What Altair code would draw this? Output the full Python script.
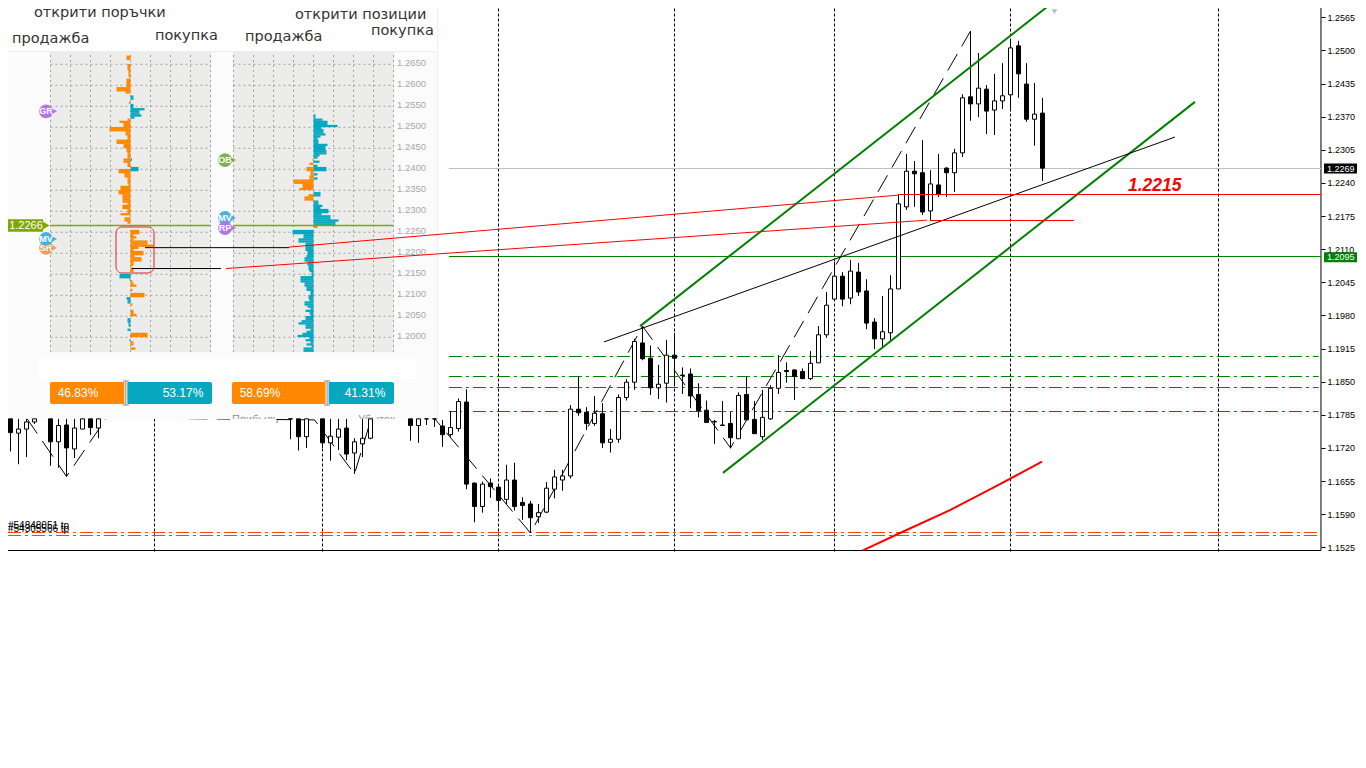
import altair as alt
import pandas as pd

# ---- candles ----
bars = [0,1,2,3,5,6,7,8,9,10,11,35,36,37,39,40,41,42,43,44,45,50,51,52,53] + list(range(54,130))
highs = [1.1777,1.1777,1.1777,1.1777,1.1777,1.1777,1.1777,1.1777,1.1777,1.1777,1.1777,
 1.1777,1.1777,1.1777,1.1777,1.1777,1.1777,1.1777,1.1739,1.1777,1.1777,1.1777,1.1777,1.1777,1.1777,
 1.1775,1.1792,1.1817,1.1835,1.1652,1.1654,1.1660,1.1649,1.1687,1.1691,1.1623,1.1616,1.1610,1.1653,1.1677,1.1677,
 1.1804,1.1860,1.1800,1.1822,1.1808,1.1757,1.1825,1.1855,1.1934,1.1959,1.1921,1.1883,1.1932,1.1946,1.1878,1.1876,
 1.1847,1.1813,1.1775,1.1812,1.1791,1.1829,1.1860,1.1812,1.1834,1.1843,1.1902,1.1888,1.1874,1.1876,1.1910,1.1959,
 1.2026,1.2085,1.2065,1.2089,1.2083,1.2051,1.1975,1.2018,1.2059,1.2216,1.2297,1.2283,1.2324,1.2265,1.2297,1.2271,
 1.2307,1.2414,1.2538,1.2495,1.2432,1.2454,1.2475,1.2522,1.2519,1.2475,1.2436,1.2407]
opens = [1.1777,1.1749,1.1757,1.1771,1.1777,1.1732,1.1765,1.1718,1.1757,1.1777,1.1759,
 1.1777,1.1777,1.1742,1.1777,1.1730,1.1741,1.1759,1.1710,1.1728,1.1739,1.1777,1.1764,1.1777,1.1777,
 1.1763,1.1746,1.1758,1.1810,1.1651,1.1605,1.1651,1.1643,1.1619,1.1657,1.1613,1.1610,1.1585,1.1594,1.1639,1.1657,
 1.1665,1.1796,1.1790,1.1768,1.1787,1.1731,1.1737,1.1819,1.1849,1.1926,1.1896,1.1838,1.1847,1.1902,1.1863,1.1865,
 1.1825,1.1794,1.1772,1.1765,1.1768,1.1738,1.1825,1.1776,1.1742,1.1777,1.1837,1.1872,1.1873,1.1870,1.1856,1.1887,
 1.1942,1.2012,1.2057,1.2014,1.2065,1.2028,1.1967,1.1934,1.1946,1.2032,1.2193,1.2263,1.2260,1.2185,1.2236,1.2269,
 1.2260,1.2299,1.2409,1.2395,1.2424,1.2383,1.2401,1.2413,1.2509,1.2434,1.2365,1.2377]
closes = [1.1750,1.1757,1.1771,1.1777,1.1732,1.1764,1.1720,1.1759,1.1777,1.1760,1.1777,
 1.1777,1.1742,1.1777,1.1730,1.1743,1.1757,1.1708,1.1732,1.1739,1.1777,1.1764,1.1777,1.1777,1.1777,
 1.1746,1.1760,1.1811,1.1649,1.1605,1.1649,1.1644,1.1617,1.1657,1.1605,1.1607,1.1583,1.1593,1.1641,1.1663,1.1665,
 1.1796,1.1789,1.1768,1.1788,1.1730,1.1737,1.1819,1.1849,1.1929,1.1895,1.1838,1.1845,1.1902,1.1896,1.1862,1.1822,
 1.1793,1.1770,1.1771,1.1764,1.1740,1.1823,1.1775,1.1748,1.1780,1.1837,1.1868,1.1870,1.1860,1.1856,1.1886,1.1942,
 1.2000,1.2057,1.2012,1.2067,1.2026,1.1965,1.1934,1.1948,1.2032,1.2199,1.2263,1.2258,1.2183,1.2238,1.2218,1.2260,
 1.2299,1.2407,1.2395,1.2426,1.2381,1.2401,1.2411,1.2505,1.2454,1.2365,1.2375,1.2269]
lows = [1.1713,1.1688,1.1702,1.1767,1.1685,1.1681,1.1664,1.1700,1.1757,1.1745,1.1739,
 1.1737,1.1715,1.1720,1.1720,1.1695,1.1716,1.1696,1.1669,1.1702,1.1737,1.1734,1.1730,1.1765,1.1761,
 1.1722,1.1742,1.1752,1.1639,1.1574,1.1593,1.1622,1.1598,1.1610,1.1597,1.1579,1.1553,1.1573,1.1592,1.1621,1.1636,
 1.1660,1.1783,1.1755,1.1763,1.1720,1.1711,1.1730,1.1813,1.1834,1.1892,1.1824,1.1816,1.1809,1.1843,1.1826,1.1798,
 1.1780,1.1769,1.1728,1.1764,1.1719,1.1738,1.1775,1.1748,1.1736,1.1775,1.1826,1.1848,1.1814,1.1855,1.1853,1.1887,
 1.1936,1.2010,1.1998,1.2002,1.2018,1.1953,1.1914,1.1918,1.1932,1.2032,1.2187,1.2193,1.2177,1.2167,1.2212,1.2212,
 1.2222,1.2291,1.2362,1.2369,1.2336,1.2334,1.2385,1.2383,1.2407,1.2360,1.2313,1.2244]

axis_prices = [1.2565,1.2500,1.2435,1.2370,1.2305,1.2240,1.2175,1.2110,1.2045,1.1980,1.1915,1.1850,1.1785,1.1720,1.1655,1.1590,1.1525]
period_bars = [18,39,61,83,103,125,151]

zigzag_bars = [2,7,12,38,43,45,46,50,65,79,90,120]
zigzag_prices = [1.1779,1.1664,1.1779,1.1775,1.1669,1.1773,1.1824,1.1834,1.1553,1.1959,1.1720,1.2538]

ma_bars = [106.56,111.19,117.44,123.69,128.94]
ma_prices = [1.1519,1.1553,1.1598,1.1649,1.1693]

# level lines
BAR_L, BAR_S, BAR_R = -0.3125, 54.8, 163.81
green_dashdot = [1.189938,1.186013,1.183855,1.179145]
orange_dashdot = [1.155401,1.154812]
bid_price, level_green, level_red, level_red2 = 1.22683, 1.209561, 1.221728, 1.216626
frame_bottom, frame_top = 1.151869, 1.2593

# order book (signed widths per price row, rows from top)
left_start = -3
left_book = [-4,-4,0,0,-3,-3,-3,-2,-2,-2,-1,-4,-4,-4,-4,-14,-14,-5,0,3,3,0,-1.5,3,3,14,9,9,11,4,-3,-11,-7,-7,-21,-21,-5,-5,-3,-3,-14,-14,-7,-7,-4,-4,-3,-3,-3,-7,-7,-3,-3,8,8,-12,-6,-6,-3,-3,-3,-2,-10,-10,-12,-12,-8,-8,-8,-8,-3,-8,-8,-3,-3,-10,0,-6,-6,-3,0,0,0,9,9,3,6,3,17,17,23,8,3,13,13,4,11,11,3,3,1,3,3,0,-11,-11,-1,2,3,6,0,2,0,14,14,-4,-3,-3,2,0,0,3,3,6,0,-3,-3,-2,-2,0,-3,0,17,17,0,-1,3,3,0,5]
left_extra = [(51,-12),(46,1.5)]
right_start = 25
right_book = [2,2,9,14,14,24,8,10,10,12,7,4,5,5,14,12,12,13,13,6,4,-1,6,-4,4,13,13,-3,4,-4,4,-20,-20,-11,-11,-14,0,7,-5,-9,-9,5,5,9,7,15,15,8,17,17,25,22,22,4,0,-21,-21,-10,-10,-15,-15,-8,-8,-8,-8,-6,-6,-7,-9,-9,-6,-6,-5,-5,-4,-2,-2,-13,-13,-13,-9,-9,-7,-7,-3,-3,-5,-5,-4,-9,-9,-6,-3,-8,-4,-3,-8,-8,-12,-15,-8,-8,-3,-7,-11,-16,-4,-8,-3,-7,-2,-10,-10]
right_extra = [(50,-7),(51,-7),(53,-3),(55,-4),(63,7)]
book_base, book_step, book_mid = 1.2653, 0.0005, 1.2266
book_ticks = [1.2650,1.2600,1.2550,1.2500,1.2450,1.2400,1.2350,1.2300,1.2250,1.2200,1.2150,1.2100,1.2050,1.2000]
book_grid = [-80,-60,-40,-20,0,20,40,60,80]

sell_left, buy_left = 46.83, 53.17
sell_right, buy_right = 58.69, 41.31

tag_names = ["GR","SR","MV"]
tag_prices = [1.2538,1.2213,1.2234]
tag_colors = ["#b474ea","#e8a062","#4cb1da"]
tag2_names = ["OB","MV","RP"]
tag2_prices = [1.2422,1.2284,1.2260]
tag2_colors = ["#7eb24e","#4cb1da","#b474ea"]

ORANGE, TEAL, OLIVE = "#ff8800", "#06a8c0", "#7fa900"
GREEN = "#008000"
W, H = 1350, 745
XM = [-0.3125, 168.4375]
YM = [1.112135, 1.258325]
YP = [1.10102, 1.27840]
XL = [-122.5, 1227.5]
XR = [-305.5, 1044.5]
PL = [-25.93, 807.4]
PR = [-138.27, 695.06]


def sx(field, dom=XM):
    return alt.X(field, type="quantitative", scale=alt.Scale(domain=dom, nice=False, zero=False), axis=None, title=None)


def sy(field, dom=YM, axis=None):
    return alt.Y(field, type="quantitative", scale=alt.Scale(domain=dom, nice=False, zero=False), axis=axis, title=None)


def seg(x0, x1, y, color, width=1, dash=None, dom=XM, ydom=YM):
    df = pd.DataFrame({"a": [x0], "b": [x1], "y": [y]})
    kw = {"strokeDash": dash} if dash else {}
    return alt.Chart(df).mark_rule(color=color, strokeWidth=width, **kw).encode(
        x=sx("a", dom), x2=alt.X2("b"), y=sy("y", ydom))


def poly(xs, ys, color, width=1, dash=None):
    df = pd.DataFrame({"x": xs, "y": ys})
    kw = {"strokeDash": dash} if dash else {}
    return alt.Chart(df).mark_line(color=color, strokeWidth=width, **kw).encode(x=sx("x"), y=sy("y"))


def box(x0, y0, x1, y1, fill, **kw):
    return alt.Chart(pd.DataFrame({"k": [1]})).mark_rect(fill=fill, **kw).encode(
        x=alt.value(x0 - 8), x2=alt.value(x1 - 8), y=alt.value(y0 - 8), y2=alt.value(y1 - 8))


def note(text, px, py, size=14.5, color="#333333", font="DejaVu Sans", align="left", **kw):
    return alt.Chart(pd.DataFrame({"t": [text]})).mark_text(
        align=align, baseline="middle", fontSize=size, color=color, font=font, **kw).encode(
        x=alt.value(px - 8), y=alt.value(py - 8), text="t:N")


layers = []

# axis + frame
axis_df = pd.DataFrame({"p": axis_prices, "x": [BAR_R] * len(axis_prices)})
layers.append(alt.Chart(axis_df).mark_rule(opacity=0).encode(
    y=sy("p", axis=alt.Axis(orient="right", offset=-37, values=axis_prices, format=".4f", domain=False,
                            grid=False, ticks=True, tickSize=4, tickColor="black", labelColor="black",
                            labelFont="Liberation Sans", labelFontSize=9, labelPadding=2,
                            labelOverlap=False, title=None))))
layers.append(seg(BAR_L, BAR_R, frame_bottom, "black"))
layers.append(seg(BAR_S, BAR_R, frame_top, "black"))
layers.append(alt.Chart(pd.DataFrame({"x": [BAR_R], "a": [frame_bottom], "b": [frame_top]})).mark_rule(color="black").encode(
    x=sx("x"), y=sy("a"), y2=alt.Y2("b")))

# period separators
sep_df = pd.DataFrame({"x": period_bars, "a": [frame_bottom - 0.0002] * len(period_bars), "b": [frame_top] * len(period_bars)})
layers.append(alt.Chart(sep_df).mark_rule(color="black", strokeDash=[3, 2]).encode(
    x=sx("x"), y=sy("a"), y2=alt.Y2("b")))

# levels
layers.append(seg(BAR_S, BAR_R, bid_price, "#c0c0c0"))
layers.append(seg(BAR_S, BAR_R, level_green, GREEN))
for p in green_dashdot:
    layers.append(seg(BAR_S, BAR_R - 0.3, p, GREEN, dash=[13, 4, 3, 4]))
for p in orange_dashdot:
    layers.append(seg(BAR_L, BAR_R, p, "#ff4500", dash=[13, 4, 3, 4]))
layers.append(poly(zigzag_bars, zigzag_prices, "black", dash=[19, 9]))

# overlay panel
layers.append(box(8, 8, 448, 419, "white"))
layers.append(box(8, 52, 437, 419, "#fbfbfb"))
layers.append(box(8, 51, 437, 52, "#eeeeee"))
layers.append(box(437, 8, 438, 419, "#eeeeee"))
layers.append(box(37, 358, 416, 379, "white"))
layers.append(box(50, 52, 211, 352, "#ecedea"))
layers.append(box(233, 52, 394, 352, "#ecedea"))

grid_top, grid_bottom = 1.26793, 1.1965
for dom in (XL, XR):
    gdf = pd.DataFrame({"x": book_grid, "a": [grid_bottom] * 9, "b": [grid_top] * 9})
    layers.append(alt.Chart(gdf).mark_rule(color="#a0a0a0", strokeDash=[2, 3]).encode(
        x=sx("x", dom), y=sy("a", YP), y2=alt.Y2("b")))
    hdf = pd.DataFrame({"y": book_ticks, "a": [-80] * len(book_ticks), "b": [80] * len(book_ticks)})
    layers.append(alt.Chart(hdf).mark_rule(color="#a0a0a0", strokeDash=[2, 3]).encode(
        x=sx("a", dom), x2=alt.X2("b"), y=sy("y", YP)))


def book_frame(start, values, extra):
    rows = [(start + i, v) for i, v in enumerate(values) if v != 0] + list(extra)
    out = []
    for n, v in rows:
        price = book_base - n * book_step
        out.append({"p": price, "v": v, "z": 0,
                    "c": TEAL if (v > 0) == (price > book_mid) else ORANGE})
    return pd.DataFrame(out)


for dom, start, vals, extra in ((XL, left_start, left_book, left_extra), (XR, right_start, right_book, right_extra)):
    layers.append(alt.Chart(book_frame(start, vals, extra)).mark_rule(strokeWidth=2.3).encode(
        x=sx("z", dom), x2=alt.X2("v"), y=sy("p", YP), color=alt.Color("c:N", scale=None)))

# book price labels
lab_df = pd.DataFrame({"p": book_ticks, "x": [83.5] * len(book_ticks)})
layers.append(alt.Chart(lab_df).mark_text(align="left", baseline="middle", dy=-1, fontSize=9.5,
                                          font="Liberation Sans", color="#a8a8a8").encode(
    x=sx("x", XR), y=sy("p", YP), text=alt.Text("p:Q", format=".4f")))

# current price in the panels
layers.append(seg(-80, 80, book_mid, OLIVE, width=1.5, dom=XL, ydom=YP))
layers.append(seg(-80, 80, book_mid, OLIVE, width=1.5, dom=XR, ydom=YP))
layers.append(alt.Chart(pd.DataFrame({"a": [-125.5], "b": [-87.5], "y0": [book_mid - 0.0015], "y1": [book_mid + 0.0015]})).mark_rect(color=OLIVE).encode(
    x=sx("a", XL), x2=alt.X2("b"), y=sy("y0", YP), y2=alt.Y2("y1")))
layers.append(alt.Chart(pd.DataFrame({"x": [-85.0], "y": [book_mid]})).mark_point(shape="triangle-right", filled=True, size=90, color=OLIVE, opacity=1).encode(
    x=sx("x", XL), y=sy("y", YP)))
layers.append(note("1.2266", 26, 226, size=11, color="white", font="Liberation Sans", align="center"))


def tags(names, prices, colors, cx):
    df = pd.DataFrame({"t": names, "p": prices, "c": colors, "x": [cx] * len(names), "tip": [cx + 8] * len(names)})
    out = []
    for n in range(len(names)):
        d = df.iloc[[n]]
        out.append(alt.Chart(d).mark_point(shape="triangle-right", filled=True, size=50, opacity=1).encode(
            x=sx("tip", XL), y=sy("p", YP), color=alt.Color("c:N", scale=None)))
        out.append(alt.Chart(d).mark_point(shape="circle", filled=True, size=190, opacity=1).encode(
            x=sx("x", XL), y=sy("p", YP), color=alt.Color("c:N", scale=None)))
        out.append(alt.Chart(d).mark_text(color="white", fontSize=9, fontWeight="bold", font="Liberation Sans").encode(
            x=sx("x", XL), y=sy("p", YP), text="t:N"))
    return out


layers += tags(tag_names, tag_prices, tag_colors, -84.5)
layers += tags(tag2_names, tag2_prices, tag2_colors, 94.5)

# headers
layers.append(note("открити поръчки", 34, 13))
layers.append(note("продажба", 12, 39))
layers.append(note("покупка", 155, 36))
layers.append(note("продажба", 245, 37))
layers.append(note("открити позиции", 295, 15))
layers.append(note("покупка", 371, 31))


def pct_bar(sell, dom):
    out = []
    df = pd.DataFrame({"a": [0.0, sell], "b": [sell, 100.0], "c": [ORANGE, TEAL]})
    out.append(alt.Chart(df).mark_rect(cornerRadius=2).encode(
        x=sx("a", dom), x2=alt.X2("b"), y=alt.value(374), y2=alt.value(396),
        color=alt.Color("c:N", scale=None)))
    h = pd.DataFrame({"x": [sell]})
    out.append(alt.Chart(h).mark_rule(color="white", strokeWidth=3).encode(x=sx("x", dom), y=alt.value(374), y2=alt.value(396)))
    out.append(alt.Chart(h).mark_rule(color="#888888").encode(x=sx("x", dom), y=alt.value(373), y2=alt.value(397)))
    for yv in (373, 397):
        e = pd.DataFrame({"a": [sell - 1.8], "b": [sell + 1.8]})
        out.append(alt.Chart(e).mark_rule(color="#888888").encode(x=sx("a", dom), x2=alt.X2("b"), y=alt.value(yv)))
    return out


layers += pct_bar(sell_left, PL)
layers += pct_bar(sell_right, PR)
for txt, px in ((f"{sell_left:.2f}%", 78), (f"{buy_left:.2f}%", 183), (f"{sell_right:.2f}%", 260), (f"{buy_right:.2f}%", 365)):
    layers.append(note(txt, px, 393, size=12, color="white", font="Liberation Sans", align="center"))

# half-hidden captions under the panel
layers.append(note("Прибыль", 232, 420, size=11, color="#999999", font="Liberation Sans"))
layers.append(note("Убыток", 358, 420, size=11, color="#999999", font="Liberation Sans"))
layers.append(box(230, 419, 276, 427, "white"))
layers.append(box(356, 419, 396, 427, "white"))

# candles
cdf = pd.DataFrame({"x": bars, "h": highs, "o": opens, "c": closes, "l": lows})
cdf["fill"] = ["white" if c > o else "black" for o, c in zip(cdf.o, cdf.c)]
cdf["x0"] = cdf.x - 0.25
cdf["x1"] = cdf.x + 0.25
layers.append(alt.Chart(cdf).mark_rule(color="black", strokeWidth=1).encode(
    x=sx("x"), y=sy("l"), y2=alt.Y2("h")))
layers.append(alt.Chart(cdf).mark_rect(stroke="black", strokeWidth=1).encode(
    x=sx("x0"), x2=alt.X2("x1"), y=sy("o"), y2=alt.Y2("c"), fill=alt.Fill("fill:N", scale=None)))

# drawings on top
layers.append(poly([89.06, 148.06], [1.1671, 1.2399], GREEN, width=2))
layers.append(poly([78.69, 130.19], [1.1959, 1.2593], GREEN, width=2))
layers.append(poly([74.19, 145.56], [1.1928, 1.2330], "black"))
layers.append(poly(ma_bars, ma_prices, "#ff0000", width=2))
layers.append(poly([34.81, 110.94], [1.2114, 1.2216], "#ff0000"))
layers.append(poly([26.94, 114.56], [1.2072, 1.2167], "#ff0000"))
layers.append(seg(110.94, BAR_R, level_red, "#ff0000"))
layers.append(seg(114.94, 132.94, level_red2, "#ff0000"))
layers.append(seg(16.81, 34.81, 1.2113, "black"))
layers.append(seg(15.19, 26.31, 1.2072, "black"))
layers.append(box(116, 227, 154, 273, "transparent", stroke="#e8202a", strokeWidth=1, cornerRadius=6))
layers.append(note("1.2215", 1128, 186, size=17.5, color="#ff0000", font="Liberation Sans", fontWeight="bold", fontStyle="italic"))
layers.append(alt.Chart(pd.DataFrame({"x": [130.5], "y": [1.2576]})).mark_point(shape="triangle-down", filled=True, size=30, color="#bbbbbb", opacity=1).encode(
    x=sx("x"), y=sy("y")))
layers.append(note("#54848051 tp", 8, 526, size=10, color="black", font="Liberation Sans"))
layers.append(note("#54305566 tp", 8, 529, size=10, color="black", font="Liberation Sans"))

# price tags on the axis
for price, label, col in ((bid_price, "1.2269", "black"), (level_green - 0.00015, "1.2095", GREEN)):
    layers.append(alt.Chart(pd.DataFrame({"a": [164.19], "b": [168.31], "y0": [price - 0.00098], "y1": [price + 0.00098]})).mark_rect(color=col).encode(
        x=sx("a"), x2=alt.X2("b"), y=sy("y0"), y2=alt.Y2("y1")))
    layers.append(alt.Chart(pd.DataFrame({"x": [164.56], "y": [price], "t": [label]})).mark_text(
        align="left", baseline="middle", color="white", fontSize=9, font="Liberation Sans").encode(
        x=sx("x"), y=sy("y"), text="t:N"))

chart = alt.layer(*layers).resolve_scale(x="independent", y="independent", color="independent").properties(
    width=W, height=H, padding=0, autosize=alt.AutoSizeParams(type="none"), background="white"
).configure_view(stroke=None)

chart.save("out.html", embed_options={"renderer": "svg", "actions": False})
